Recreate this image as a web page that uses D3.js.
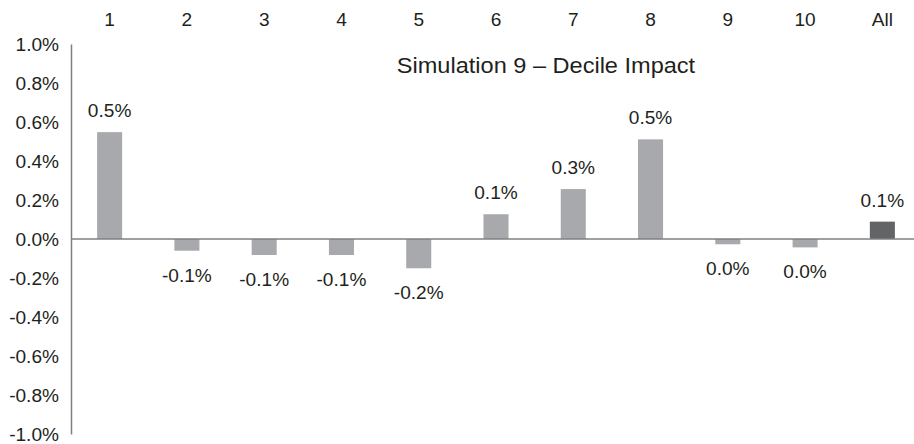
<!DOCTYPE html>
<html>
<head>
<meta charset="utf-8">
<script src="https://cdn.jsdelivr.net/npm/d3@7/dist/d3.min.js"></script>
<style>
  html, body { margin: 0; padding: 0; background: #fff; }
  svg { display: block; }
  text { font-family: "Liberation Sans", Arial, Helvetica, sans-serif; fill: #231f20; }
</style>
</head>
<body>
<svg id="chart" width="914" height="444"></svg>
<script>
const categories = ["1", "2", "3", "4", "5", "6", "7", "8", "9", "10", "All"];
const values = [0.548, -0.06, -0.082, -0.082, -0.15, 0.127, 0.256, 0.511, -0.027, -0.043, 0.089];
const valueLabels = ["0.5%", "-0.1%", "-0.1%", "-0.1%", "-0.2%", "0.1%", "0.3%", "0.5%", "0.0%", "0.0%", "0.1%"];
const yTicks = [1.0, 0.8, 0.6, 0.4, 0.2, 0.0, -0.2, -0.4, -0.6, -0.8, -1.0];
const title = "Simulation 9 \u2013 Decile Impact";

const svg = d3.select("#chart");
function stretch(sel, k) {
  sel.each(function () {
    const w = this.getComputedTextLength();
    d3.select(this).attr("textLength", w * k).attr("lengthAdjust", "spacingAndGlyphs");
  });
}

const x = d3.scaleBand().domain(categories).range([71, 921]).paddingInner(0.676).paddingOuter(0.338);
const y = d3.scaleLinear().domain([-1, 1]).range([434, 44]);

// y axis
const yAxis = svg.append("g")
  .attr("transform", "translate(71,0)")
  .call(d3.axisLeft(y).tickValues(yTicks).tickSize(0).tickSizeOuter(0).tickPadding(12)
    .tickFormat(v => v.toFixed(1) + "%"));
yAxis.select(".domain").attr("stroke", "#808080").attr("stroke-width", 1.5);
yAxis.selectAll("text").attr("font-size", 18).attr("fill", "#231f20")
  .attr("font-family", "Liberation Sans, Arial, sans-serif").attr("dy", "0.36em");
stretch(yAxis.selectAll("text"), 1.06);

// top category axis
const xAxis = svg.append("g")
  .attr("transform", "translate(0,26)")
  .call(d3.axisTop(x).tickSize(0).tickPadding(0));
xAxis.select(".domain").remove();
xAxis.selectAll("text").attr("font-size", 18).attr("fill", "#231f20")
  .attr("font-family", "Liberation Sans, Arial, sans-serif");
stretch(xAxis.selectAll("text"), 1.06);

// bars
const data = categories.map((c, i) => ({ c, v: values[i], label: valueLabels[i] }));
svg.append("g").selectAll("rect").data(data).join("rect")
  .attr("x", d => x(d.c))
  .attr("width", x.bandwidth())
  .attr("y", d => y(Math.max(0, d.v)))
  .attr("height", d => Math.abs(y(d.v) - y(0)))
  .attr("fill", d => d.c === "All" ? "#636466" : "#a7a9ac");

// zero line
svg.append("line")
  .attr("x1", 71).attr("x2", 914)
  .attr("y1", y(0)).attr("y2", y(0))
  .attr("stroke", "#808080").attr("stroke-width", 1.5);

// value labels
const vl = svg.append("g").selectAll("text").data(data).join("text")
  .attr("x", d => x(d.c) + x.bandwidth() / 2)
  .attr("y", d => d.v >= 0 ? y(d.v) - 15 : y(d.v) + 31)
  .attr("text-anchor", "middle")
  .attr("font-size", 18)
  .text(d => d.label);
stretch(vl, 1.06);

// title
const t = svg.append("text")
  .attr("x", 546).attr("y", 73)
  .attr("text-anchor", "middle")
  .attr("font-size", 22)
  .text(title);
stretch(t, 1.07);
</script>
</body>
</html>
